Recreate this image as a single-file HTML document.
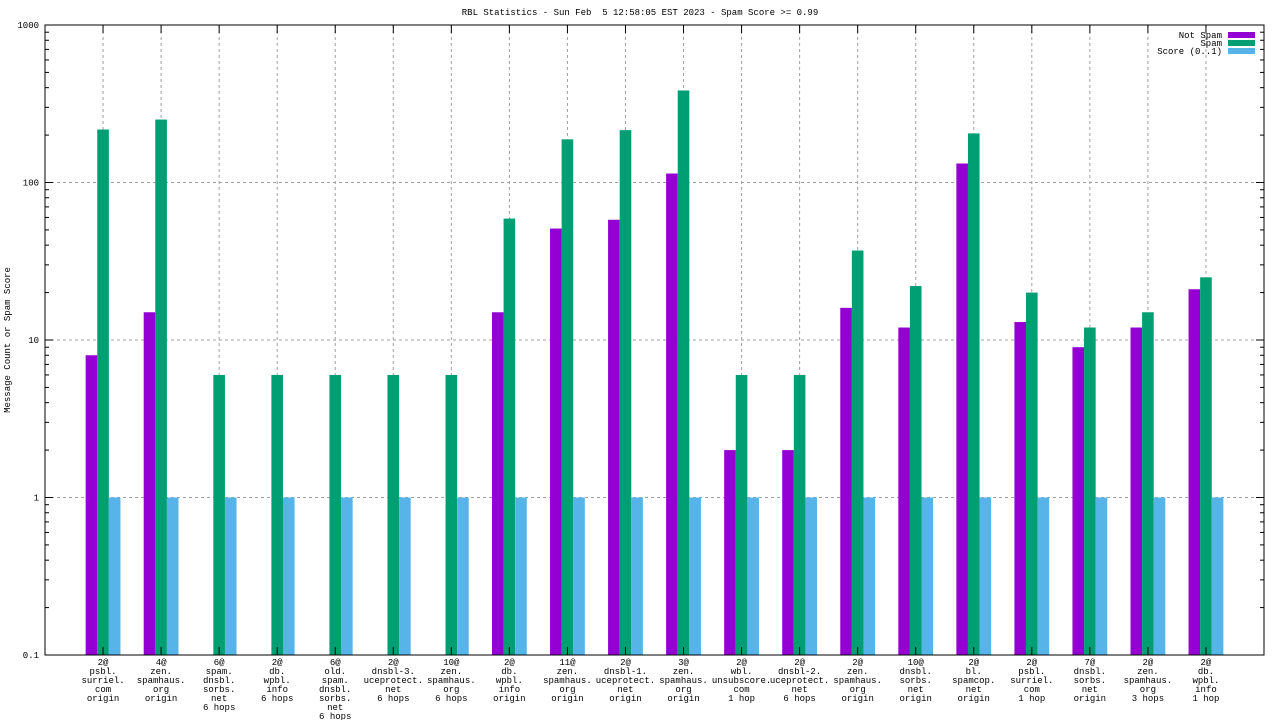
<!DOCTYPE html>
<html><head><meta charset="utf-8"><style>
body{margin:0;background:#fff;}
svg{display:block;font-family:"Liberation Mono","DejaVu Sans Mono",monospace;}
</style></head><body>
<svg id="chart" width="1280" height="720" xmlns="http://www.w3.org/2000/svg"></svg>
<script>
const categories = [
 ["2@","psbl.","surriel.","com","origin"],
 ["4@","zen.","spamhaus.","org","origin"],
 ["6@","spam.","dnsbl.","sorbs.","net","6 hops"],
 ["2@","db.","wpbl.","info","6 hops"],
 ["6@","old.","spam.","dnsbl.","sorbs.","net","6 hops"],
 ["2@","dnsbl-3.","uceprotect.","net","6 hops"],
 ["10@","zen.","spamhaus.","org","6 hops"],
 ["2@","db.","wpbl.","info","origin"],
 ["11@","zen.","spamhaus.","org","origin"],
 ["2@","dnsbl-1.","uceprotect.","net","origin"],
 ["3@","zen.","spamhaus.","org","origin"],
 ["2@","wbl.","unsubscore.","com","1 hop"],
 ["2@","dnsbl-2.","uceprotect.","net","6 hops"],
 ["2@","zen.","spamhaus.","org","origin"],
 ["10@","dnsbl.","sorbs.","net","origin"],
 ["2@","bl.","spamcop.","net","origin"],
 ["2@","psbl.","surriel.","com","1 hop"],
 ["7@","dnsbl.","sorbs.","net","origin"],
 ["2@","zen.","spamhaus.","org","3 hops"],
 ["2@","db.","wpbl.","info","1 hop"]
];
const notSpam = [8,15,0,0,0,0,0,15,51,58,114,2,2,16,12,132,13,9,12,21];
const spam = [217,251,6,6,6,6,6,59,188,215,384,6,6,37,22,205,20,12,15,25];
const score = [1,1,1,1,1,1,1,1,1,1,1,1,1,1,1,1,1,1,1,1];
const yTicks = [0.1,1,10,100,1000];
const yTickLabels = ["0.1","1","10","100","1000"];
const seriesNames = ["Not Spam","Spam","Score (0..1)"];
const colors = ["#9400d3","#009e73","#56b4e9"];

const NS="http://www.w3.org/2000/svg";
const svg=document.getElementById('chart');
const L=45,R=1264,T=25,B=655;
const xs=i=>L+(i+1)*(R-L)/(categories.length+1);
const ys=v=>B-(Math.log10(v)-Math.log10(0.1))/(Math.log10(1000)-Math.log10(0.1))*(B-T);
function mk(tag,attrs,parent){const e=document.createElementNS(NS,tag);for(const k in attrs)e.setAttribute(k,attrs[k]);(parent||svg).appendChild(e);return e;}

// title
const title=mk('text',{x:640,y:15,'text-anchor':'middle','font-size':9});
title.textContent="RBL Statistics - Sun Feb  5 12:58:05 EST 2023 - Spam Score >= 0.99";


title.setAttribute('xml:space','preserve');
title.style.whiteSpace='pre';

// y axis title
const yt=mk('text',{x:0,y:0,transform:'translate(10,340) rotate(-90)','text-anchor':'middle','font-size':9});
yt.textContent="Message Count or Spam Score";



// grid
yTicks.forEach((t,i)=>{
  if(i>0&&i<yTicks.length-1){
    const g=mk('line',{x1:L,x2:R,y1:ys(t),y2:ys(t),stroke:'#a0a0a0','stroke-dasharray':'3,3','stroke-width':1});
    
    
  }
});
categories.forEach((c,i)=>{
  const g=mk('line',{x1:xs(i),x2:xs(i),y1:T,y2:B,stroke:'#a0a0a0','stroke-dasharray':'3,3','stroke-width':1});
  
  
});

// bars
const bw=11.6;
const series=[notSpam,spam,score];
series.forEach((arr,s)=>{
  arr.forEach((v,i)=>{
    if(v<=0)return;
    const x=xs(i)+(s-1.5)*bw, y=ys(v);
    const r=mk('rect',{x:x,y:y,width:bw,height:B-y,fill:colors[s]});
    
    
  });
});

// ticks
for(let d=-1;d<3;d++){
  for(let m=2;m<=9;m++){
    const y=ys(m*Math.pow(10,d));
    mk('line',{x1:L,x2:L+4,y1:y,y2:y,stroke:'#000'});
    mk('line',{x1:R-4,x2:R,y1:y,y2:y,stroke:'#000'});
  }
}
yTicks.forEach((t,i)=>{
  const y=ys(t);
  mk('line',{x1:L,x2:L+8,y1:y,y2:y,stroke:'#000'});
  mk('line',{x1:R-8,x2:R,y1:y,y2:y,stroke:'#000'});
  const lb=mk('text',{x:L-6,y:y+3,'text-anchor':'end','font-size':9});
  lb.textContent=yTickLabels[i];
  
  
});
categories.forEach((c,i)=>{
  const x=xs(i);
  mk('line',{x1:x,x2:x,y1:B,y2:B-8,stroke:'#000'});
  mk('line',{x1:x,x2:x,y1:T,y2:T+8,stroke:'#000'});
  const tx=mk('text',{x:x,y:665,'text-anchor':'middle','font-size':9});
  
  
  c.forEach((line,j)=>{const ts=mk('tspan',{x:x,y:665+j*9},tx);ts.textContent=line;});
});

// border
const bd=mk('rect',{x:L,y:T,width:R-L,height:B-T,fill:'none',stroke:'#000','stroke-width':1});



// legend
seriesNames.forEach((n,i)=>{
  const y=35+i*8;
  const lt=mk('text',{x:1222,y:y+3,'text-anchor':'end','font-size':9});
  lt.textContent=n;
  
  
  const sw=mk('rect',{x:1228,y:y-3,width:27,height:6,fill:colors[i]});
  
  
});
</script>
</body></html>
